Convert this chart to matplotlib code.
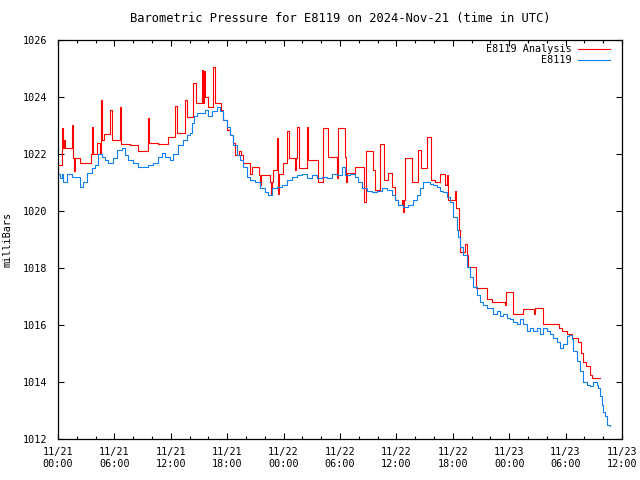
import numpy as np
import pandas as pd
import matplotlib
matplotlib.use('Agg')
import matplotlib.pyplot as plt
import matplotlib.dates as mdates

# hours after 2024-11-21 00:00 UTC, pressure in mb
obs_hours = [0.0, 0.2, 0.4, 0.5, 1.0, 1.5, 2.3, 2.7, 3.1, 3.6, 3.9, 4.3, 4.7, 5.0, 5.3, 5.9,
             6.3, 6.8, 7.1, 7.4, 8.0, 8.5, 9.0, 9.6, 10.1, 10.6, 11.1, 11.4, 11.9, 12.2, 12.8,
             13.3, 13.7, 14.0, 14.3, 14.5, 14.8, 15.1, 15.6, 16.0, 16.4, 16.9, 17.2, 17.6, 18.0,
             18.3, 18.6, 19.0, 19.4, 19.7, 20.1, 20.4, 21.0, 21.5, 22.0, 22.3, 22.8, 23.3, 23.8,
             24.4, 24.9, 25.4, 26.0, 26.5, 27.0, 27.6, 28.1, 28.6, 29.1, 29.7, 30.2, 30.5, 31.1,
             31.6, 31.9, 32.3, 32.9, 33.4, 33.9, 34.5, 35.0, 35.5, 35.9, 36.2, 36.7, 37.2, 37.8,
             38.2, 38.5, 38.8, 39.3, 39.6, 39.9, 40.3, 40.6, 41.0, 41.4, 41.7, 42.0, 42.4, 42.6,
             42.8, 43.1, 43.5, 43.8, 44.1, 44.6, 44.9, 45.2, 45.6, 46.0, 46.3, 46.7, 47.0, 47.3,
             47.8, 48.1, 48.4, 48.8, 49.1, 49.5, 49.9, 50.2, 50.5, 51.0, 51.3, 51.6, 52.0, 52.3,
             52.7, 53.1, 53.4, 53.7, 54.1, 54.4, 54.7, 54.8, 55.2, 55.5, 55.9, 56.3, 56.6, 56.9,
             57.3, 57.4, 57.7, 57.9, 58.0, 58.2, 58.4, 58.7]
obs_mb = [1021.3, 1021.15, 1021.3, 1021.0, 1021.3, 1021.2, 1020.85, 1021.0, 1021.35, 1021.5,
          1021.6, 1022.0, 1021.9, 1021.8, 1021.7, 1021.85, 1022.15, 1022.2, 1021.95, 1021.8,
          1021.7, 1021.55, 1021.55, 1021.6, 1021.7, 1021.9, 1022.05, 1021.9, 1021.8, 1022.0,
          1022.3, 1022.5, 1022.65, 1022.75, 1023.1, 1023.35, 1023.45, 1023.45, 1023.55, 1023.35,
          1023.5, 1023.65, 1023.5, 1023.2, 1022.95, 1022.65, 1022.3, 1021.95, 1021.8, 1021.55,
          1021.2, 1021.1, 1021.0, 1020.8, 1020.65, 1020.55, 1020.8, 1020.85, 1020.9, 1021.1,
          1021.2, 1021.25, 1021.3, 1021.15, 1021.25, 1021.15, 1021.2, 1021.15, 1021.3, 1021.25,
          1021.55, 1021.25, 1021.3, 1021.2, 1021.0, 1020.8, 1020.7, 1020.65, 1020.7, 1020.8,
          1020.75, 1020.55, 1020.4, 1020.2, 1020.15, 1020.2, 1020.4, 1020.55, 1020.8, 1021.0,
          1021.0, 1020.95, 1020.9, 1020.85, 1020.7, 1020.65, 1020.5, 1020.3, 1019.8, 1019.35,
          1019.1, 1018.75, 1018.45, 1018.05, 1017.7, 1017.35, 1017.05, 1016.8, 1016.7, 1016.6,
          1016.6, 1016.4, 1016.5, 1016.3, 1016.4, 1016.25, 1016.2, 1016.1, 1016.05, 1016.2,
          1016.05, 1015.8, 1015.9, 1015.8, 1015.9, 1015.7, 1015.9, 1015.8, 1015.7, 1015.55,
          1015.4, 1015.2, 1015.35, 1015.6, 1015.65, 1015.5, 1015.1, 1014.75, 1014.4, 1014.0,
          1013.9, 1013.85, 1014.0, 1013.9, 1013.8, 1013.5, 1013.2, 1012.95, 1012.8, 1012.5,
          1012.45]

ana_hours = [0.0, 0.4, 0.5, 0.65, 0.7, 1.5, 1.6, 1.7, 1.8, 2.3, 3.5, 3.6, 3.7, 4.15, 4.45,
             4.55, 4.7, 4.9, 5.5, 5.75, 6.6, 6.7, 7.65, 8.5, 9.55, 9.7, 10.6, 11.7, 12.45,
             12.65, 13.5, 13.7, 14.35, 14.7, 15.3, 15.4, 15.55, 15.65, 15.95, 16.5, 16.7,
             17.35, 17.55, 18.0, 18.3, 18.6, 18.85, 19.25, 19.45, 19.7, 20.4, 20.65, 21.4,
             21.5, 21.6, 22.55, 22.65, 22.75, 22.9, 23.3, 23.4, 23.5, 23.95, 24.35, 24.6,
             25.2, 25.3, 25.45, 25.65, 26.5, 26.6, 27.65, 28.2, 28.7, 29.65, 29.8, 30.5,
             30.65, 30.75, 31.6, 32.55, 32.75, 33.5, 33.7, 34.25, 34.7, 35.1, 35.55, 35.85,
             36.2, 36.6, 36.7, 36.8, 36.9, 37.65, 38.3, 38.6, 39.25, 39.7, 40.1, 40.65, 41.2,
             41.35, 41.5, 42.25, 42.35, 42.65, 42.75, 43.3, 43.5, 43.6, 44.45, 45.65, 46.2,
             47.55, 47.65, 48.4, 49.45, 50.6, 50.7, 51.6, 53.3, 53.6, 54.15, 54.7, 55.3,
             55.6, 55.85, 56.2, 56.6, 56.8, 57.65]
ana_mb = [1021.6, 1022.9, 1022.2, 1022.5, 1022.2, 1023.0, 1021.85, 1021.4, 1021.85, 1021.7,
          1022.0, 1022.95, 1022.0, 1022.4, 1022.0, 1023.9, 1022.5, 1022.7, 1023.55, 1022.5,
          1023.65, 1022.35, 1022.3, 1022.1, 1023.25, 1022.4, 1022.35, 1022.6, 1023.7,
          1022.75, 1023.9, 1023.3, 1024.5, 1023.8, 1024.95, 1023.8, 1024.9, 1024.0, 1023.65,
          1025.05, 1023.8, 1023.55, 1023.2, 1022.85, 1022.65, 1022.4, 1021.95, 1022.1,
          1021.95, 1021.7, 1021.3, 1021.55, 1021.25, 1020.9, 1021.25, 1021.0, 1020.6, 1021.0,
          1021.45, 1022.55, 1020.6, 1021.3, 1021.7, 1022.8, 1021.85, 1021.45, 1021.85,
          1022.95, 1021.5, 1022.95, 1021.8, 1021.0, 1022.9, 1021.9, 1021.15, 1022.9, 1021.9,
          1021.0, 1021.35, 1021.55, 1020.3, 1022.1, 1021.45, 1020.75, 1022.35, 1021.1,
          1021.35, 1020.85, 1020.4, 1020.2, 1020.4, 1019.95, 1020.4, 1021.85, 1021.0,
          1022.15, 1021.5, 1022.6, 1021.1, 1021.0, 1021.3, 1020.9, 1021.25, 1020.4, 1020.7,
          1020.1, 1019.35, 1018.55, 1018.85, 1018.45, 1018.05, 1017.3, 1016.9, 1016.8,
          1016.7, 1017.15, 1016.4, 1016.55, 1016.4, 1016.6, 1016.05, 1015.9, 1015.8, 1015.7,
          1015.55, 1015.4, 1015.0, 1014.7, 1014.55, 1014.25, 1014.15, 1014.15]

start = pd.Timestamp('2024-11-21 00:00')
obs_t = start + pd.to_timedelta(obs_hours, unit='h')
ana_t = start + pd.to_timedelta(ana_hours, unit='h')

plt.rcParams['font.family'] = ['DejaVu Sans Mono']
plt.rcParams['font.size'] = 7.3

fig = plt.figure(figsize=(6.4, 4.8), dpi=100)
ax = fig.add_axes([58 / 640, 41 / 480, 564 / 640, 399 / 480])

ax.step(ana_t, ana_mb, where='post', color='#ff0000', lw=0.8, label='E8119 Analysis')
ax.step(obs_t, obs_mb, where='post', color='#1080f0', lw=0.8, label='E8119')

ax.set_xlim(start, start + pd.Timedelta(hours=60))
ax.set_ylim(1012, 1026)
ax.set_yticks(np.arange(1012, 1027, 2))
ax.xaxis.set_major_locator(mdates.HourLocator(byhour=[0, 6, 12, 18]))
ax.xaxis.set_minor_locator(mdates.HourLocator(byhour=range(0, 24, 2)))
ax.xaxis.set_major_formatter(mdates.DateFormatter('%m/%d\n%H:%M'))

ax.tick_params(which='both', direction='in', top=True, right=True, color='black')
ax.tick_params(which='major', length=4.5, width=0.8)
ax.tick_params(which='minor', length=2.5, width=0.8)
ax.tick_params(axis='x', which='major', pad=6)
ax.tick_params(axis='y', which='major', pad=8)
for s in ax.spines.values():
    s.set_linewidth(0.9)

ax.set_title('Barometric Pressure for E8119 on 2024-Nov-21 (time in UTC)', pad=13)
ax.set_ylabel('milliBars', labelpad=7)

leg = ax.legend(loc='upper right', bbox_to_anchor=(0.986, 1.0), frameon=False,
                markerfirst=False, handlelength=3.2, borderaxespad=0.0,
                labelspacing=0.1, handletextpad=0.6)

fig.savefig('out.png', dpi=100)
